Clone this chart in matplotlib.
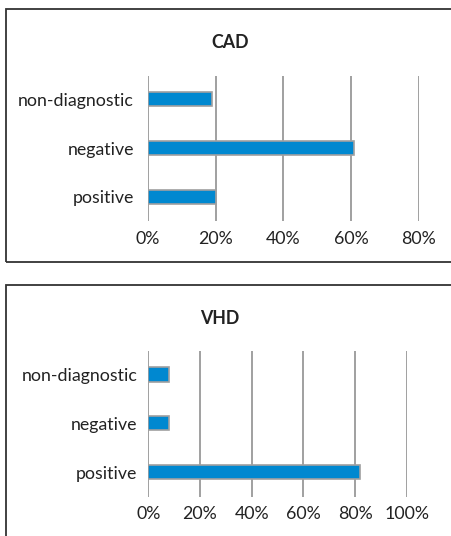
import matplotlib.pyplot as plt
from matplotlib.patches import Rectangle
from matplotlib.ticker import FuncFormatter

categories = ['positive', 'negative', 'non-diagnostic']
cad_values = [0.20, 0.61, 0.19]
vhd_values = [0.82, 0.08, 0.08]
cad_ticks = [0, 0.2, 0.4, 0.6, 0.8]
vhd_ticks = [0, 0.2, 0.4, 0.6, 0.8, 1.0]

plt.rcParams['font.family'] = ['Lato', 'DejaVu Sans']

W, H = 451, 536
fig = plt.figure(figsize=(W / 100, H / 100), dpi=100)

bar_color = '#0088d0'
edge_color = '#a0a0a0'
grid_color = '#a0a0a0'


def make_panel(rect, values, ticks, title, title_xy, pad):
    ax = fig.add_axes(rect)
    ax.barh(range(len(categories)), values, height=0.29, color=bar_color,
            edgecolor=edge_color, linewidth=1.2, zorder=3)
    ax.set_yticks(range(len(categories)))
    ax.set_yticklabels(categories)
    ax.set_xticks(ticks)
    ax.xaxis.set_major_formatter(FuncFormatter(lambda v, p: f'{v * 100:.0f}%'))
    ax.set_xlim(0, ticks[-1])
    ax.set_ylim(-0.5, 2.48)
    ax.grid(axis='x', color=grid_color, linewidth=1.4, zorder=0)
    ax.grid(axis='y', visible=False)
    for s in ax.spines.values():
        s.set_visible(False)
    ax.tick_params(length=0, labelsize=12.8, colors='#222222')
    ax.tick_params(axis='y', pad=pad)
    ax.tick_params(axis='x', pad=7)
    fig.text(title_xy[0] / W, 1 - title_xy[1] / H, title, ha='center',
             va='center', fontsize=12.8, fontweight='bold', color='#222222')
    return ax


make_panel([148 / W, 1 - 221 / H, (418.7 - 148) / W, 145 / H],
           cad_values, cad_ticks, 'CAD', (230, 43), 10)
make_panel([148.3 / W, 1 - 496.7 / H, (406.7 - 148.3) / W, 145.7 / H],
           vhd_values, vhd_ticks, 'VHD', (220, 318), 8)

# panel frames
fig.patches.append(Rectangle((6 / W, 1 - 262 / H), 460 / W, 253 / H,
                             transform=fig.transFigure, fill=False,
                             edgecolor='#333333', linewidth=1.3))
fig.patches.append(Rectangle((6 / W, -10 / H), 460 / W, (H - 285 + 10) / H,
                             transform=fig.transFigure, fill=False,
                             edgecolor='#333333', linewidth=1.3))

fig.savefig('out.png', dpi=100)
